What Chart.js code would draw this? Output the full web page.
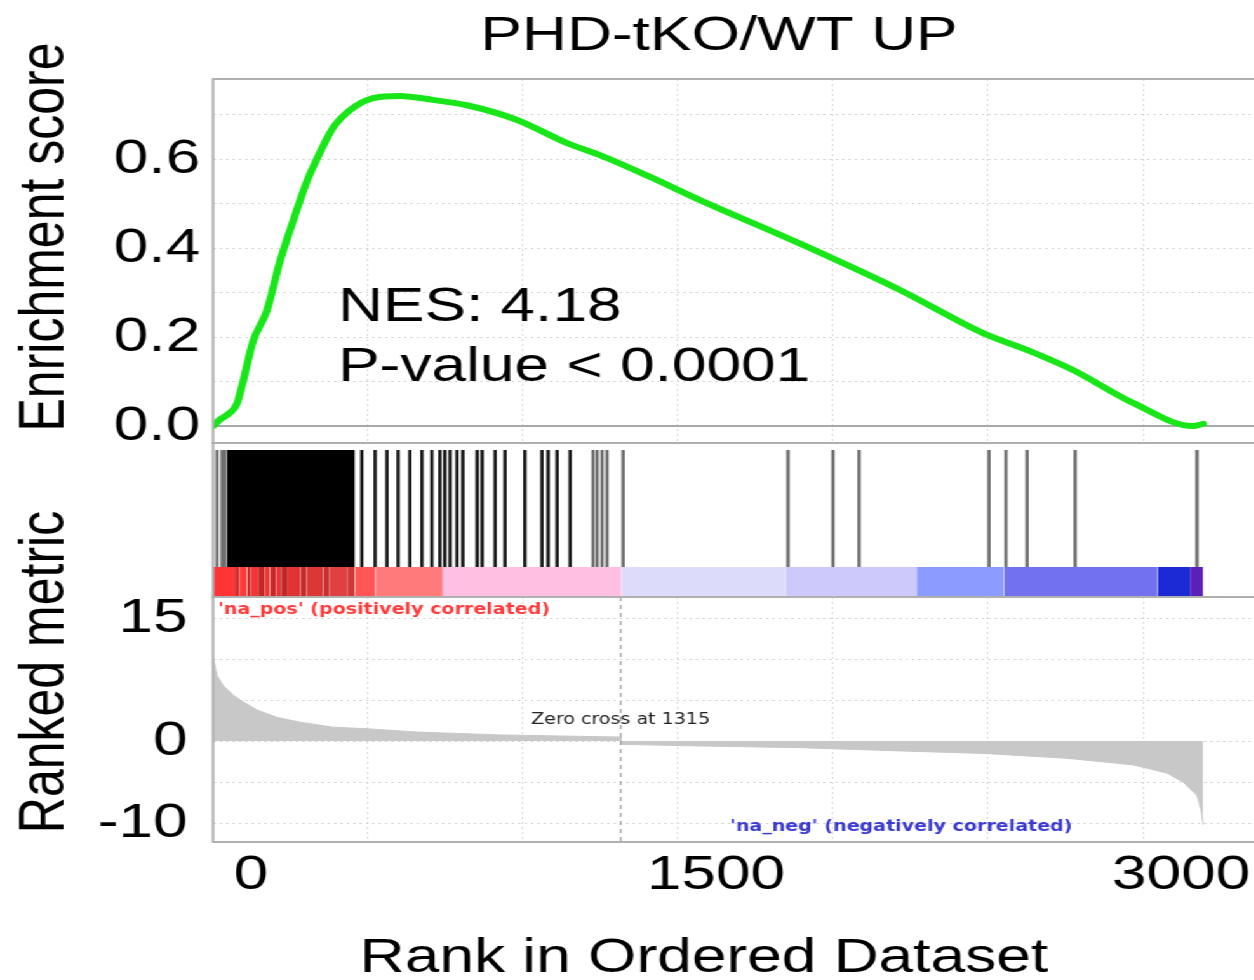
<!DOCTYPE html>
<html>
<head>
<meta charset="utf-8">
<script src="https://cdn.jsdelivr.net/npm/chart.js@4.4.1/dist/chart.umd.min.js"></script>
<style>
  html, body { margin: 0; padding: 0; background: #fff; overflow: hidden; }
  #wrap { position: absolute; left: 0; top: 0; width: 1000px; height: 980px; transform-origin: 0 0; }
  #wrap canvas { position: absolute; left: 0; top: 0; }
</style>
</head>
<body>
<div id="wrap">
  <canvas id="es" width="1000" height="980"></canvas>
  <canvas id="hits" width="1000" height="980"></canvas>
  <canvas id="metric" width="1000" height="980"></canvas>
</div>
<script>
// the original figure is stretched sideways, so draw narrow and stretch the whole page
const SX = 1.27;
const px = v => v / SX;   // picture px -> canvas px (horizontal only)
document.getElementById('wrap').style.transform = `scaleX(${SX})`;

// ---- values ----
const RANK_MAX = 3400;
const ZERO_CROSS = 1315;

const rankGrid = [0, 500, 1000, 1500, 2000, 2500, 3000];
const rankLabels = [0, 1500, 3000];

// running enrichment score
const esRank  = [0, 23, 55, 77, 97, 129, 174, 216, 258, 303, 335, 387, 442, 516, 603, 710, 819, 981, 1142, 1248, 1410, 1571, 1894, 2216, 2484, 2626, 2774, 2968, 3161, 3194];
const esScore = [0, 0.015, 0.03, 0.05, 0.10, 0.19, 0.26, 0.37, 0.46, 0.55, 0.60, 0.67, 0.71, 0.737, 0.742, 0.733, 0.721, 0.688, 0.636, 0.609, 0.56, 0.508, 0.41, 0.306, 0.209, 0.171, 0.126, 0.052, 0.0, 0.005];
const esGrid = [0, 0.1, 0.2, 0.3, 0.4, 0.5, 0.6, 0.7];
const esLabels = [0, 0.2, 0.4, 0.6];

// gene set hits
const hitRanks = [13, 29, 39, 480, 523, 561, 597, 635, 674, 706, 732, 748, 765, 787, 806, 852, 868, 910, 942, 1006, 1061, 1081, 1110, 1152, 1226, 1239, 1255, 1271, 1323, 1855, 2000, 2084, 2503, 2558, 2626, 2781, 3174];
const denseHits = [45, 458];   // solid black run of hits

// colour strip under the hits
const bandEdges = [0, 71, 84, 110, 123, 145, 168, 184, 203, 219, 239, 281, 303, 355, 377, 432, 458, 523, 742, 1319, 1848, 2271, 2552, 3048, 3152, 3194];
const bandColors = ['#ff3535', '#d42c2c', '#ff3a3a', '#cc2a2a', '#f23434', '#c42626', '#ee3535', '#c82828', '#e83434', '#c02626',
                    '#e03333', '#c42a2a', '#dd3636', '#c83030', '#e04040', '#d03838', '#ff5555', '#ff7b7b', '#ffbfe2', '#dcdcfa',
                    '#cdc9fa', '#8c9bff', '#7272f0', '#1c2ad6', '#5a20b8'];

// ranked list metric
const metricRank  = [0, 13, 32, 65, 97, 142, 206, 281, 387, 497, 658, 926, 1303, 1314, 1316, 1571, 1894, 2216, 2484, 2755, 2968, 3077, 3129, 3174, 3188, 3194];
const metricValue = [10.2, 8.0, 6.8, 5.6, 4.8, 3.8, 2.9, 2.3, 1.7, 1.5, 1.1, 0.75, 0.5, 0.5, -0.4, -0.6, -0.8, -1.2, -1.5, -2.1, -2.9, -3.9, -5.0, -6.6, -8.5, -10.2];
const metricGrid = [-10, -5, 0, 5, 10, 15];
const metricLabels = [15, 0, -10];

// ---- layout (picture px) ----
const LEFT = 213, RIGHT = 1267;
const ES_MIN = -0.038, ES_MAX = 0.78;
const MET_MIN = -12.3, MET_MAX = 17.56;
const STRIP_TOP = 0.195, HIT_TOP = 0.955, HIT_MID = 0.575, HIT_HALF = 58.5;

const BIG = { family: 'Liberation Sans', size: 49 };
const GRID = '#d6d6d6';

Chart.defaults.font.family = 'Liberation Sans';

const notes = {
  id: 'notes',
  afterDraw(chart, args, opts) {
    const ctx = chart.ctx;
    for (const n of opts.items || []) {
      const x = n.xValue !== undefined ? chart.scales.x.getPixelForValue(n.xValue) : n.x;
      ctx.save();
      ctx.font = n.font;
      ctx.fillStyle = n.color || '#000';
      ctx.textAlign = n.align || 'left';
      ctx.textBaseline = 'alphabetic';
      ctx.translate(x, n.y);
      if (n.rotate) ctx.rotate(n.rotate);
      ctx.fillText(n.text, 0, 0);
      ctx.restore();
    }
  }
};

const frame = {
  id: 'frame',
  afterDatasetsDraw(chart, args, opts) {
    const { ctx, chartArea: a } = chart;
    ctx.save();
    if (opts.zeroCross !== undefined) {
      const x = chart.scales.x.getPixelForValue(opts.zeroCross);
      ctx.strokeStyle = '#a0a0a0';
      ctx.lineWidth = 1.3;
      ctx.setLineDash([4, 4]);
      ctx.beginPath();
      ctx.moveTo(x, a.top);
      ctx.lineTo(x, a.bottom);
      ctx.stroke();
      ctx.setLineDash([]);
    }
    ctx.strokeStyle = '#b0b0b0';
    ctx.lineWidth = 2;
    ctx.strokeRect(a.left, a.top, a.right - a.left, a.bottom - a.top);
    ctx.restore();
  }
};

function rankAxis(showLabels) {
  return {
    type: 'linear', min: 0, max: RANK_MAX,
    afterBuildTicks: s => { s.ticks = rankGrid.map(v => ({ value: v })); },
    afterFit: s => { s.height = showLabels ? 980 - 842 : 0; },
    grid: { color: GRID, lineWidth: 1, drawTicks: false },
    border: { display: false, dash: [2, 3] },
    ticks: {
      display: showLabels, font: BIG, color: '#000', padding: 4,
      labelOffset: px(38), maxRotation: 0, autoSkip: false,
      callback: v => rankLabels.includes(v) ? String(v) : ''
    }
  };
}

const common = {
  responsive: false,
  animation: false,
  events: [],
  devicePixelRatio: 1
};

// ---- enrichment score panel ----
new Chart(document.getElementById('es'), {
  type: 'line',
  data: {
    datasets: [{
      data: esRank.map((r, i) => ({ x: r, y: esScore[i] })),
      borderColor: '#19e619',
      borderWidth: 6,
      pointRadius: 0,
      cubicInterpolationMode: 'monotone',
      borderCapStyle: 'round',
      borderJoinStyle: 'round',
      fill: false
    }]
  },
  options: {
    ...common,
    layout: { autoPadding: false, padding: { left: 0, right: 1000 - px(RIGHT), top: 79, bottom: 980 - 443 } },
    scales: {
      x: rankAxis(false),
      y: {
        type: 'linear', min: ES_MIN, max: ES_MAX,
        afterBuildTicks: s => { s.ticks = esGrid.map(v => ({ value: v })); },
        afterFit: s => { s.width = px(LEFT); },
        grid: {
          color: c => c.tick && c.tick.value === 0 ? '#a8a8a8' : GRID,
          lineWidth: c => c.tick && c.tick.value === 0 ? 2 : 1,
          drawTicks: false
        },
        border: { display: false, dash: c => c.tick && c.tick.value === 0 ? [] : [2, 3] },
        ticks: {
          font: BIG, color: '#000', padding: 10, autoSkip: false,
          callback: v => esLabels.some(l => Math.abs(l - v) < 1e-9) ? v.toFixed(1) : ''
        }
      }
    },
    plugins: {
      legend: { display: false },
      tooltip: { enabled: false },
      notes: {
        items: [
          { text: 'PHD-tKO/WT UP', x: px(719), y: 50, font: '49px "Liberation Sans"', align: 'center' },
          { text: 'Enrichment score', x: px(63), y: 237, font: '50px "Liberation Sans"', align: 'center', rotate: -Math.PI / 2 },
          { text: 'NES: 4.18', x: px(338), y: 321, font: '49px "Liberation Sans"' },
          { text: 'P-value < 0.0001', x: px(338), y: 381, font: '49px "Liberation Sans"' }
        ]
      }
    }
  },
  plugins: [frame, notes]
});

// ---- hits + colour strip ----
const bandSets = bandColors.map((col, i) => ({
  type: 'line',
  data: [{ x: bandEdges[i], y: STRIP_TOP }, { x: bandEdges[i + 1], y: STRIP_TOP }],
  fill: 'origin',
  backgroundColor: col,
  borderWidth: 0,
  pointRadius: 0
}));

new Chart(document.getElementById('hits'), {
  type: 'line',
  data: {
    datasets: [
      {
        type: 'scatter',
        data: hitRanks.map(r => ({ x: r, y: HIT_MID })),
        pointStyle: 'line',
        pointRotation: 90,
        pointRadius: HIT_HALF,
        pointBorderWidth: 2.6,
        pointBorderColor: c => c.raw && c.raw.x > 40 && c.raw.x < 1200 ? '#151515' : '#6e6e6e'
      },
      {
        type: 'line',
        data: [{ x: denseHits[0], y: HIT_TOP }, { x: denseHits[1], y: HIT_TOP }],
        fill: { value: STRIP_TOP },
        backgroundColor: '#000',
        borderWidth: 0,
        pointRadius: 0
      },
      ...bandSets
    ]
  },
  options: {
    ...common,
    layout: { autoPadding: false, padding: { left: px(LEFT), right: 1000 - px(RIGHT), top: 443, bottom: 980 - 597 } },
    scales: {
      x: { type: 'linear', min: 0, max: RANK_MAX, display: false },
      y: { type: 'linear', min: 0, max: 1, display: false }
    },
    plugins: { legend: { display: false }, tooltip: { enabled: false } }
  },
  plugins: [frame]
});

// ---- ranked list metric ----
new Chart(document.getElementById('metric'), {
  type: 'line',
  data: {
    datasets: [{
      data: metricRank.map((r, i) => ({ x: r, y: metricValue[i] })),
      fill: 'origin',
      backgroundColor: '#c8c8c8',
      borderColor: '#c8c8c8',
      borderWidth: 1,
      pointRadius: 0,
      tension: 0
    }]
  },
  options: {
    ...common,
    layout: { autoPadding: false, padding: { left: 0, right: 1000 - px(RIGHT), top: 597, bottom: 0 } },
    scales: {
      x: rankAxis(true),
      y: {
        type: 'linear', min: MET_MIN, max: MET_MAX,
        afterBuildTicks: s => { s.ticks = metricGrid.map(v => ({ value: v })); },
        afterFit: s => { s.width = px(LEFT); },
        grid: { color: GRID, lineWidth: 1, drawTicks: false },
        border: { display: false, dash: [2, 3] },
        ticks: {
          font: BIG, color: '#000', padding: 20, autoSkip: false,
          callback: v => metricLabels.includes(v) ? String(v) : ''
        }
      }
    },
    plugins: {
      legend: { display: false },
      tooltip: { enabled: false },
      frame: { zeroCross: ZERO_CROSS },
      notes: {
        items: [
          { text: 'Ranked metric', x: px(64), y: 672, font: '50px "Liberation Sans"', align: 'center', rotate: -Math.PI / 2 },
          { text: "'na_pos' (positively correlated)", x: px(218), y: 614, font: 'bold 15px "DejaVu Sans"', color: '#ff3b3b' },
          { text: 'Zero cross at ' + ZERO_CROSS, xValue: ZERO_CROSS, y: 724, font: '15px "DejaVu Sans"', color: '#222', align: 'center' },
          { text: "'na_neg' (negatively correlated)", x: px(730), y: 831, font: 'bold 15px "DejaVu Sans"', color: '#3a3ad0' },
          { text: 'Rank in Ordered Dataset', x: px(704), y: 972, font: '49px "Liberation Sans"', align: 'center' }
        ]
      }
    }
  },
  plugins: [frame, notes]
});
</script>
</body>
</html>
